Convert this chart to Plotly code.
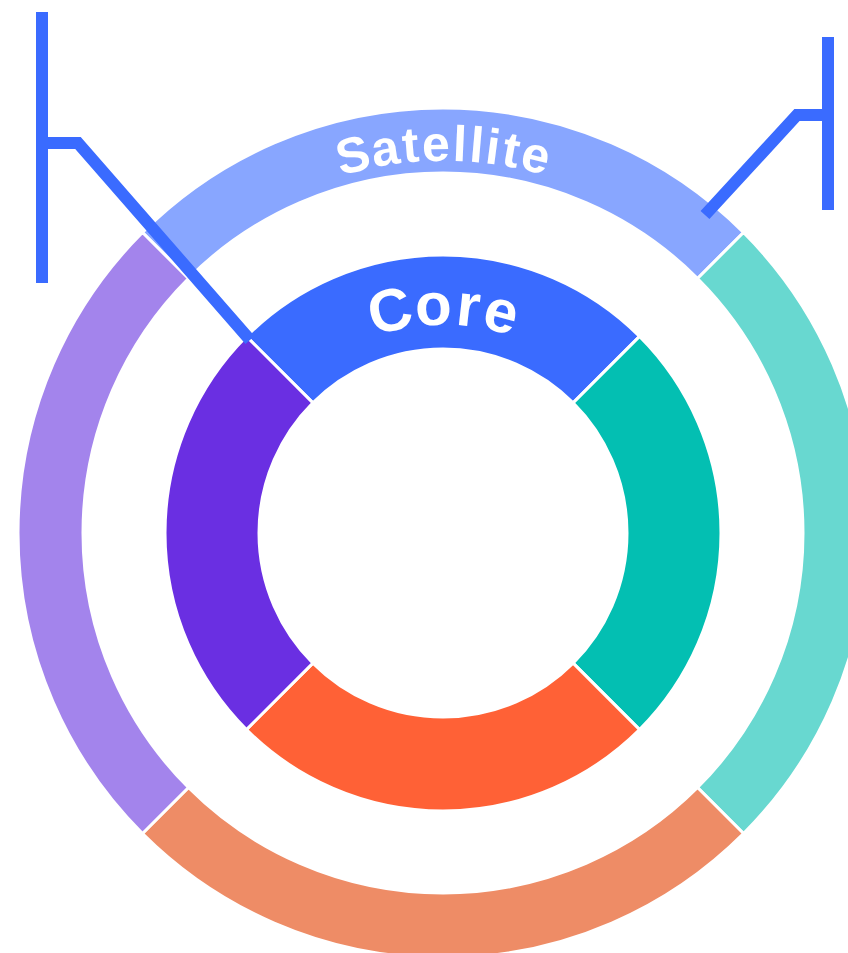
import math
import plotly.graph_objects as go

# ---- data ----
core_labels = ["Core 1", "Core 2", "Core 3", "Core 4"]
core_values = [1, 1, 1, 1]
core_colors = ["#3A6BFF", "#03BFB2", "#FF6136", "#6A2FE2"]

sat_labels = ["Satellite 1", "Satellite 2", "Satellite 3", "Satellite 4"]
sat_values = [1, 1, 1, 1]
sat_colors = ["#88A6FF", "#68D8D0", "#EE8C66", "#A384EC"]

ring_titles = ["Core", "Satellite"]

# ---- layout geometry (screen pixels) ----
W, H = 870, 960
CX, CY = 443, 533
R_SAT_OUT, R_SAT_IN = 425, 360
R_CORE_OUT, R_CORE_IN = 278, 184


def dom(r):
    x0, x1 = (CX - r) / W, (CX + r) / W
    y0, y1 = 1 - (CY + r) / H, 1 - (CY - r) / H
    return dict(x=[max(0, x0), min(1, x1)], y=[max(0, y0), min(1, y1)])


fig = go.Figure()
fig.add_trace(go.Pie(
    labels=sat_labels, values=sat_values, sort=False, direction="clockwise",
    rotation=-45, hole=R_SAT_IN / R_SAT_OUT, domain=dom(R_SAT_OUT),
    marker=dict(colors=sat_colors, line=dict(color="white", width=3)),
    textinfo="none", showlegend=False,
))
fig.add_trace(go.Pie(
    labels=core_labels, values=core_values, sort=False, direction="clockwise",
    rotation=-45, hole=R_CORE_IN / R_CORE_OUT, domain=dom(R_CORE_OUT),
    marker=dict(colors=core_colors, line=dict(color="white", width=3)),
    textinfo="none", showlegend=False,
))

# ---- curved ring titles (one annotation per character) ----
char_w = {"S": .667, "a": .556, "t": .333, "e": .556, "l": .278, "i": .278,
          "C": .722, "o": .611, "r": .389}


def curved(text, r, size, spacing):
    widths = [char_w.get(c, .55) * size + spacing for c in text]
    total = sum(widths) - spacing
    s = -total / 2
    anns = []
    for c, w in zip(text, widths):
        mid = s + (w - spacing) / 2
        th = mid / r
        x = CX + r * math.sin(th)
        y = CY - r * math.cos(th)
        anns.append(dict(
            text=c, x=x / W, y=1 - y / H, xref="paper", yref="paper",
            xanchor="center", yanchor="middle", showarrow=False,
            textangle=math.degrees(th),
            font=dict(family="Liberation Sans, Arial", size=size, color="white",
                      weight="bold"),
        ))
        s += w
    return anns


annotations = curved(ring_titles[1], 389, 50, 3) + curved(ring_titles[0], 229, 60, 5)

# ---- callout lines ----
callout_left = [(42, 12), (42, 283)]
callout_left_arm = [(42, 143), (78, 143), (250, 340)]
callout_right = [(828, 37), (828, 210)]
callout_right_arm = [(828, 115), (797, 115), (705, 215)]


def path(pts):
    return "M " + " L ".join(f"{x / W},{1 - y / H}" for x, y in pts)


shapes = []
for pts in [callout_left, callout_left_arm, callout_right, callout_right_arm]:
    shapes.append(dict(type="path", path=path(pts), xref="paper", yref="paper",
                       line=dict(color="#3A6BFF", width=12)))

fig.update_layout(
    width=W, height=H, margin=dict(l=0, r=0, t=0, b=0),
    paper_bgcolor="white", plot_bgcolor="white",
    annotations=annotations, shapes=shapes, showlegend=False,
)

fig.write_html(
    "out.html",
    config={"displayModeBar": False},
    post_script="document.body.style.margin='0';document.body.style.overflow='hidden';",
)
